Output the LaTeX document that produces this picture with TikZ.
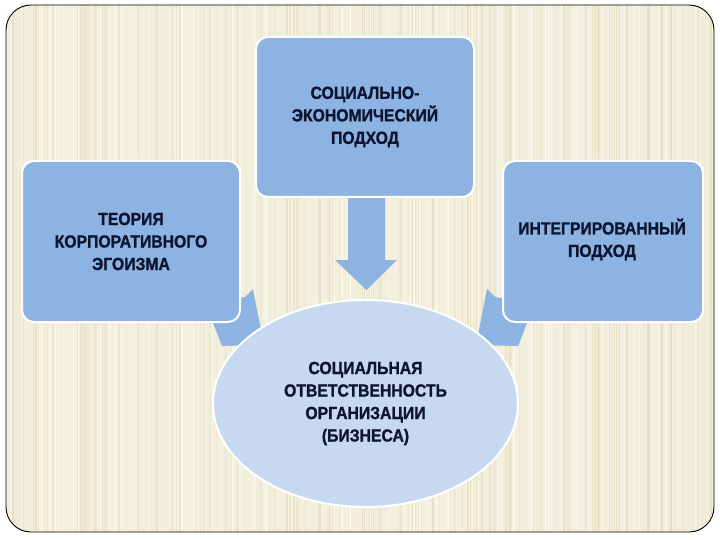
\documentclass[tikz,border=0pt]{standalone}
\usepackage{fontspec}
\setmainfont{Liberation Sans}
\newfontfamily\dfont{Liberation Sans}[FakeStretch=0.9, BoldFeatures={FakeBold=1.2}]
\usetikzlibrary{shapes.geometric}
\definecolor{bgc}{HTML}{F3EFDD}
\definecolor{stripeD}{HTML}{E3DCBE}
\definecolor{stripeL}{HTML}{FBF9F1}
\definecolor{boxc}{HTML}{8DB3E2}
\definecolor{ellc}{HTML}{C6D9F1}
\definecolor{txt}{HTML}{0E1530}
\tikzset{
  bluebox/.style={rectangle, rounded corners=12pt, draw=white, line width=2pt,
    fill=boxc, text=txt, align=center, inner sep=0pt},
  ellbox/.style={ellipse, draw=white, line width=2pt, fill=ellc, text=txt,
    align=center, inner sep=0pt},
  blockarrow/.style={fill=boxc, draw=none},
  lbl/.style={font=\dfont\bfseries\fontsize{17.5}{22.5}\selectfont},
}
\begin{document}
\begin{tikzpicture}[x=1pt,y=-1pt]
\useasboundingbox[fill=white] (0,0) rectangle (720,540);
% striped background inside the frame
\begin{scope}
  \clip[rounded corners=25pt] (6,5) rectangle (714,532);
  \fill[bgc] (0,0) rectangle (720,540);
  \pgfmathsetseed{42}
  \foreach \i in {1,...,360}{
    \pgfmathsetmacro\xx{6+708*rnd}
    \pgfmathsetmacro\ww{0.4+1.5*rnd}
    \pgfmathtruncatemacro\cc{15+65*rnd}
    \pgfmathtruncatemacro\sel{rnd<0.55 ? 1 : 0}
    \ifnum\sel=1 \colorlet{sc}{stripeD!\cc!bgc}\else\colorlet{sc}{stripeL!\cc!bgc}\fi
    \draw[sc, line width=\ww pt] (\xx,0) -- (\xx,540);
  }
\end{scope}
\draw[black, line width=0.9pt, rounded corners=25pt] (6,5) rectangle (714,532);

% block arrows (drawn first, partly hidden by boxes and ellipse)
\fill[blockarrow] (348,190) -- (385,190) -- (385,260) -- (397,260) -- (366.5,290)
  -- (335,260) -- (348,260) -- cycle;
\fill[blockarrow] (225,300) -- (245,297) -- (253,289) -- (264,345) -- (222,346)
  -- (213,323) -- (222,318) -- cycle;
\fill[blockarrow] (515,300) -- (495,297) -- (487,289) -- (476,345) -- (518,346)
  -- (527,323) -- (518,318) -- cycle;

% boxes
\node[bluebox, lbl, minimum width=218pt, minimum height=161pt] (left) at (131,241.5)
  {ТЕОРИЯ\\КОРПОРАТИВНОГО\\ЭГОИЗМА};
\node[bluebox, lbl, minimum width=218pt, minimum height=160pt] (top) at (365,117)
  {СОЦИАЛЬНО-\\ЭКОНОМИЧЕСКИЙ\\ПОДХОД};
\node[bluebox, minimum width=200pt, minimum height=161pt] (right) at (603,241.5) {};
\node[lbl, text=txt, align=center, inner sep=0pt] (righttext) at (602,239.5)
  {ИНТЕГРИРОВАННЫЙ\\ПОДХОД};
\node[ellbox, lbl, minimum width=305pt, minimum height=207pt] (ell) at (365.5,403.5)
  {СОЦИАЛЬНАЯ\\ОТВЕТСТВЕННОСТЬ\\ОРГАНИЗАЦИИ\\(БИЗНЕСА)};
\end{tikzpicture}
\end{document}
